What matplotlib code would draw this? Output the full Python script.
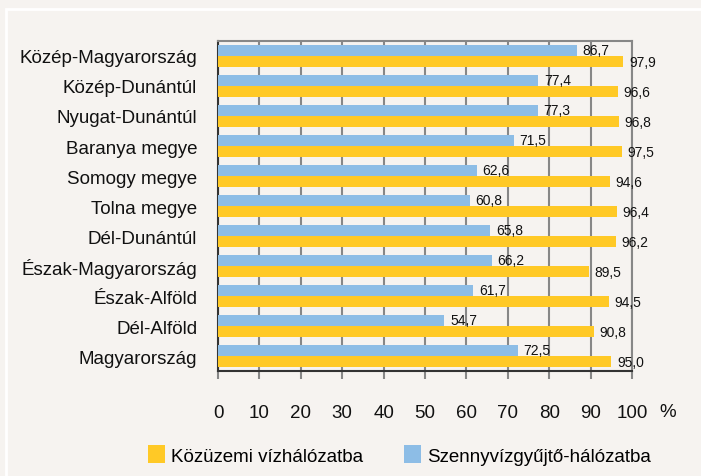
import matplotlib
matplotlib.use("Agg")
import matplotlib.pyplot as plt
from matplotlib.patches import Rectangle
import numpy as np

REGIONS = [
    "Közép-Magyarország",
    "Közép-Dunántúl",
    "Nyugat-Dunántúl",
    "Baranya megye",
    "Somogy megye",
    "Tolna megye",
    "Dél-Dunántúl",
    "Észak-Magyarország",
    "Észak-Alföld",
    "Dél-Alföld",
    "Magyarország",
]
VIZ = [97.9, 96.6, 96.8, 97.5, 94.6, 96.4, 96.2, 89.5, 94.5, 90.8, 95.0]
SZENNY = [86.7, 77.4, 77.3, 71.5, 62.6, 60.8, 65.8, 66.2, 61.7, 54.7, 72.5]
X_TICKS = [0, 10, 20, 30, 40, 50, 60, 70, 80, 90, 100]

LABEL_VIZ = "Közüzemi vízhálózatba"
LABEL_SZENNY = "Szennyvízgyűjtő-hálózatba"

YELLOW = "#ffc926"
BLUE = "#8dbde6"
BG = "#f6f3f0"
GRID = "#878787"

plt.rcParams["font.family"] = ["Liberation Sans", "DejaVu Sans"]


def fmt(v):
    return f"{v:.1f}".replace(".", ",")


def main():
    fig = plt.figure(figsize=(7.01, 4.77), dpi=100, facecolor=BG)
    ax = fig.add_axes([0.311, 0.220, 0.5906, 0.692])
    ax.set_facecolor(BG)

    # white frame around the chart area
    fig.patches.append(Rectangle((6 / 701, -0.1), 1.1, 1.1 - 10 / 477,
                                 transform=fig.transFigure, fill=False,
                                 edgecolor="white", linewidth=2))

    y = np.arange(len(REGIONS))
    h = 0.38
    b_sz = ax.barh(y - h / 2, SZENNY, height=h, color=BLUE, label=LABEL_SZENNY, zorder=3)
    b_vz = ax.barh(y + h / 2, VIZ, height=h, color=YELLOW, label=LABEL_VIZ, zorder=3)

    for bars, vals in ((b_sz, SZENNY), (b_vz, VIZ)):
        for bar, v in zip(bars, vals):
            ax.annotate(fmt(v), (v, bar.get_y() + bar.get_height() / 2),
                        xytext=(4, 0), textcoords="offset points",
                        ha="left", va="center", fontsize=10, color="#111111",
                        zorder=4)

    ax.set_xlim(0, 100)
    ax.set_ylim(-0.5, len(REGIONS) - 0.5)
    ax.invert_yaxis()
    ax.set_yticks(y)
    ax.set_yticklabels(REGIONS, fontsize=13.5, color="#111111")
    ax.set_xticks(X_TICKS)
    ax.set_xticklabels([str(t) for t in X_TICKS], fontsize=13.5, color="#111111")

    ax.grid(True, axis="x", color=GRID, linewidth=1.5, zorder=0)
    ax.tick_params(axis="y", length=0, pad=15)
    ax.tick_params(axis="x", length=6, width=1.5, color=GRID, pad=18)

    for side in ("top", "right"):
        ax.spines[side].set_color(GRID)
        ax.spines[side].set_linewidth(1.5)
    for side in ("left", "bottom"):
        ax.spines[side].set_color("#333333")
        ax.spines[side].set_linewidth(1.5)

    ax.text(108.5, -0.124, "%", transform=ax.get_xaxis_transform(),
            ha="center", va="center", fontsize=13.5, color="#111111")

    fig.legend(handles=[b_vz, b_sz], labels=[LABEL_VIZ, LABEL_SZENNY],
               loc="center", bbox_to_anchor=(0.57, 0.044), ncol=2,
               frameon=False, fontsize=13.5, handlelength=0.9, handleheight=1.1,
               handletextpad=0.3, columnspacing=2.2)

    fig.savefig("out.png", dpi=100, facecolor=BG)
    plt.close(fig)


if __name__ == "__main__":
    main()
